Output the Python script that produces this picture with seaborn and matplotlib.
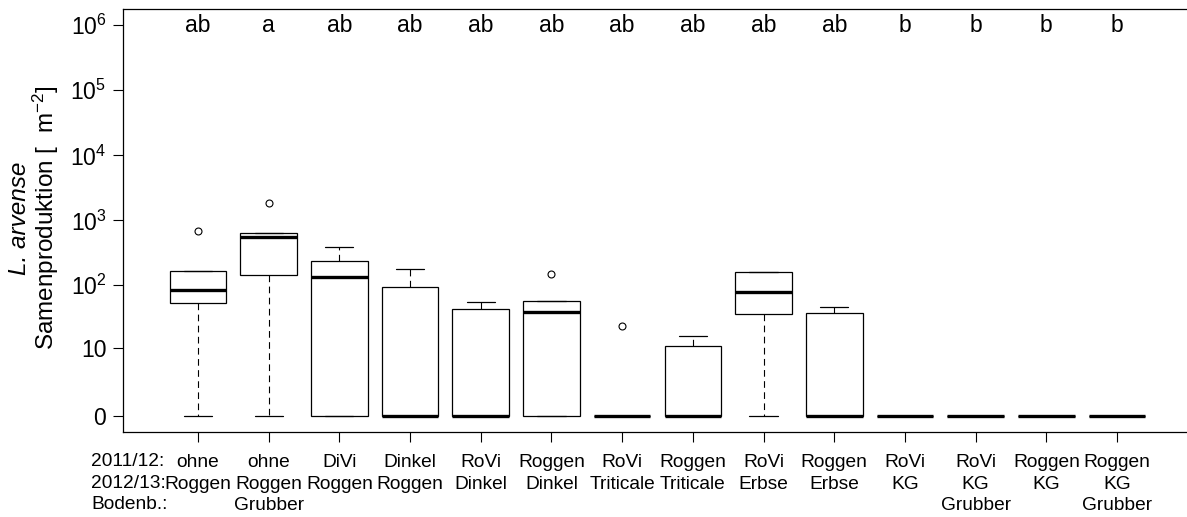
import numpy as np
import pandas as pd
import seaborn as sns
import matplotlib.pyplot as plt

# seeds per m2, five values per treatment
groups = ["ohne Roggen", "ohne Roggen Grubber", "DiVi Roggen", "Dinkel Roggen",
          "RoVi Dinkel", "Roggen Dinkel", "RoVi Triticale", "Roggen Triticale",
          "RoVi Erbse", "Roggen Erbse", "RoVi KG", "RoVi KG Grubber",
          "Roggen KG", "Roggen KG Grubber"]
seeds = [
    [0, 52, 83, 168, 676],
    [0, 146, 550, 631, 1860],
    [0, 0, 136, 238, 386],
    [0, 0, 0, 95, 177],
    [0, 0, 0, 43, 54],
    [0, 0, 38, 57, 151],
    [0, 0, 0, 0, 23],
    [0, 0, 0, 10.8, 16],
    [0, 35.5, 78, 162, 162],
    [0, 0, 0, 37, 46],
    [0, 0, 0, 0, 0],
    [0, 0, 0, 0, 0],
    [0, 0, 0, 0, 0],
    [0, 0, 0, 0, 0],
]
letters = ["ab", "a", "ab", "ab", "ab", "ab", "ab", "ab", "ab", "ab", "b", "b", "b", "b"]
tick_labels = ["ohne\nRoggen", "ohne\nRoggen\nGrubber", "DiVi\nRoggen", "Dinkel\nRoggen",
               "RoVi\nDinkel", "Roggen\nDinkel", "RoVi\nTriticale", "Roggen\nTriticale",
               "RoVi\nErbse", "Roggen\nErbse", "RoVi\nKG", "RoVi\nKG\nGrubber",
               "Roggen\nKG", "Roggen\nKG\nGrubber"]

rows = []
for g, vals in zip(groups, seeds):
    for v in vals:
        rows.append({"group": g, "seeds": v})
df = pd.DataFrame(rows)

sns.set_style("white")
plt.rcParams['font.family'] = ['Liberation Sans', 'DejaVu Sans']
plt.rcParams['mathtext.default'] = 'regular'
plt.rcParams['text.color'] = 'black'
plt.rcParams['xtick.color'] = 'black'
plt.rcParams['ytick.color'] = 'black'

W, H = 1187, 517
fig = plt.figure(figsize=(W / 100, H / 100), dpi=100)
ax = fig.add_axes([123 / W, 1 - 431.7 / H, (1192 - 123) / W, (431.7 - 9.3) / H])

# box statistics on the raw counts, axis is log10(x + 1) afterwards
sns.boxplot(data=df, x="group", y="seeds", order=groups, ax=ax,
            color="white", linecolor="black", linewidth=0.9, width=0.8,
            medianprops={"color": "black", "linewidth": 2.4, "solid_capstyle": "butt"},
            whiskerprops={"color": "black", "linewidth": 0.8, "linestyle": (0, (6, 4))},
            capprops={"color": "black", "linewidth": 0.9},
            flierprops={"marker": "o", "markersize": 5, "markerfacecolor": "none",
                        "markeredgecolor": "black", "markeredgewidth": 0.8})

ax.set_yscale('function', functions=(lambda x: np.log10(np.maximum(x, -0.99) + 1),
                                     lambda y: 10 ** y - 1))

for i, lab in enumerate(letters):
    ax.text(i, 1e6, lab, ha="center", va="center", fontsize=16.5)

ax.set_xlim(-1.06, 14.06)
ax.set_ylim(10 ** -0.246 - 1, 10 ** 6.243 - 1)
ax.set_xticks(range(len(groups)))
ax.set_xticklabels(tick_labels, fontsize=13.8, linespacing=1.36, va="top")
ax.set_yticks([0, 10, 100, 1e3, 1e4, 1e5, 1e6])
ax.set_yticklabels(["0", "10", "$10^{2}$", "$10^{3}$", "$10^{4}$", "$10^{5}$", "$10^{6}$"],
                   fontsize=16.5)
ax.yaxis.set_minor_locator(plt.NullLocator())
ax.tick_params(axis="both", which="major", length=7, width=0.8, color="black",
               left=True, bottom=True)
ax.tick_params(axis="x", pad=9)
ax.tick_params(axis="y", pad=5)
ax.set_xlabel("")
ax.set_ylabel("")
for s in ax.spines.values():
    s.set_color("black")
    s.set_linewidth(0.9)

fig.text(91 / W, 1 - 453 / H, "2011/12:\n2012/13:\nBodenb.:", fontsize=13.8,
         linespacing=1.36, va="top", ha="left")
fig.text(20 / W, 1 - 218 / H, "L. arvense", rotation=90, style="italic",
         fontsize=17.5, ha="center", va="center")
fig.text(46 / W, 1 - 218 / H, "Samenproduktion [  m$^{-2}$]", rotation=90,
         fontsize=17.5, ha="center", va="center")

fig.savefig("out.png", dpi=100)
